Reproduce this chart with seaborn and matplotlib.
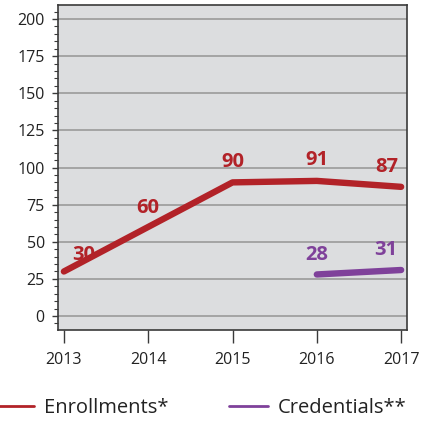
import pandas as pd
import matplotlib.pyplot as plt
import seaborn as sns
from matplotlib.ticker import MultipleLocator

years = [2013, 2014, 2015, 2016, 2017]
enrollments = [30, 60, 90, 91, 87]
cred_years = [2016, 2017]
credentials = [28, 31]

red = "#b22228"
purple = "#7f419a"

df = pd.concat([
    pd.DataFrame({"Year": years, "Count": enrollments, "Series": "Enrollments*"}),
    pd.DataFrame({"Year": cred_years, "Count": credentials, "Series": "Credentials**"}),
])

sns.set_style("white")
plt.rcParams['font.family'] = ['Open Sans', 'DejaVu Sans']

fig = plt.figure(figsize=(4.28, 4.22), dpi=100)
ax = fig.add_axes([0.1355, 0.218, 0.8155, 0.770])
ax.set_facecolor("#dcdddf")

sns.lineplot(data=df, x="Year", y="Count", hue="Series",
             palette={"Enrollments*": red, "Credentials**": purple},
             linewidth=4.6, ax=ax, legend=False,
             solid_capstyle="round", solid_joinstyle="round")

# value labels (offsets in px)
offsets = [(20, 16), (0, 19), (0, 20), (0, 21), (-14, 20)]
for x, y, (dx, dy) in zip(years, enrollments, offsets):
    ax.annotate(str(y), (x, y), xytext=(dx * 0.72, dy * 0.72), textcoords="offset points",
                ha="center", va="center", color=red, fontsize=14.5, fontweight="bold")
cred_off = [(0, 19), (-15, 20)]
for x, y, (dx, dy) in zip(cred_years, credentials, cred_off):
    ax.annotate(str(y), (x, y), xytext=(dx * 0.72, dy * 0.72), textcoords="offset points",
                ha="center", va="center", color=purple, fontsize=14.5, fontweight="bold")

ax.set_xlim(2012.93, 2017.07)
ax.set_ylim(-9.4, 209.4)
ax.set_xticks(years)
ax.set_xticklabels([str(y) for y in years])
ax.yaxis.set_major_locator(MultipleLocator(25))
ax.yaxis.set_minor_locator(MultipleLocator(5))
ax.grid(axis="y", which="major", color="#9a9a9a", linewidth=1.2)
ax.set_axisbelow(True)
ax.set_xlabel("")
ax.set_ylabel("")

for s in ax.spines.values():
    s.set_color("#3a3a3a")
    s.set_linewidth(1.2)
ax.tick_params(axis="x", direction="out", length=9, width=1, color="#3a3a3a",
               labelsize=11.5, pad=7, bottom=True, labelcolor="#222222")
ax.tick_params(axis="y", which="major", direction="out", length=4.5, width=1,
               color="#3a3a3a", labelsize=11.5, pad=5, left=True, labelcolor="#222222")
ax.tick_params(axis="y", which="minor", direction="out", length=3, width=0.8,
               color="#3a3a3a", left=True)

handles = [plt.Line2D([], [], color=red, linewidth=2),
           plt.Line2D([], [], color=purple, linewidth=2)]
fig.legend(handles, ["Enrollments*", "Credentials**"], loc="center",
           bbox_to_anchor=(0.47, 0.033), ncol=2, frameon=False,
           fontsize=14.5, handlelength=1.9, handletextpad=0.5, columnspacing=3.0,
           labelcolor="#222222")

plt.savefig("out.png", dpi=100)
